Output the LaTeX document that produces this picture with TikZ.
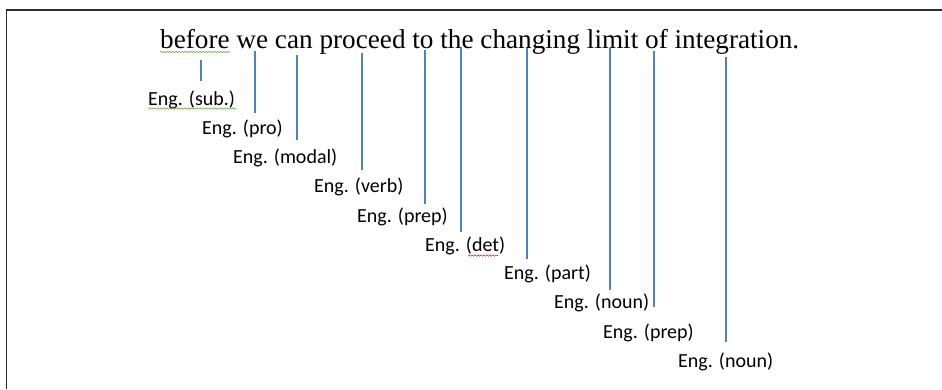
\documentclass[tikz,border=0pt]{standalone}
\usepackage{fontspec}
\setmainfont{Liberation Serif}
\newfontfamily\tagfont{Carlito}
\usetikzlibrary{decorations.pathmorphing}
\definecolor{lineBlue}{RGB}{79,129,189}
\definecolor{frameGrey}{RGB}{45,45,45}
\definecolor{waveGreen}{RGB}{110,170,80}
\definecolor{waveRed}{RGB}{225,40,40}

\begin{document}
\begin{tikzpicture}[x=1pt, y=-1pt,
	tag/.style={anchor=base west, inner sep=0pt, font=\tagfont\fontsize{20}{24}\selectfont},
	link/.style={lineBlue, line width=1.6pt},
	wave/.style={decorate, decoration={snake, segment length=3pt, amplitude=0.7pt}, line width=0.6pt}]

% Define coordinates.

	\useasboundingbox (0,0) rectangle (942,389);

	%word tops
	\coordinate (beforeTop) at (201, 60);
	\coordinate (weTop) at (255, 51);
	\coordinate (canTop) at (297, 55);
	\coordinate (proceedTop) at (362, 53);
	\coordinate (toTop) at (425, 50);
	\coordinate (theTop) at (461, 47);
	\coordinate (changingTop) at (527, 48);
	\coordinate (limitTop) at (610, 48);
	\coordinate (ofTop) at (654, 51);
	\coordinate (integrationTop) at (726, 57);

	%line ends
	\coordinate (beforeEnd) at (201, 81);
	\coordinate (weEnd) at (255, 113);
	\coordinate (canEnd) at (297, 140);
	\coordinate (proceedEnd) at (362, 170);
	\coordinate (toEnd) at (425, 204);
	\coordinate (theEnd) at (461, 232);
	\coordinate (changingEnd) at (527, 259);
	\coordinate (limitEnd) at (610, 290);
	\coordinate (ofEnd) at (654, 307);
	\coordinate (integrationEnd) at (726, 342);

% Draw frame.

	\draw[frameGrey, line width=1.6pt] (6.5, 389) -- (6.5, 10) -- (942, 10);

% Draw sentence.

	\node[anchor=base west, inner sep=0pt, font=\fontsize{27.2}{32}\selectfont] (sentence) at (160, 48) {before we can proceed to the changing limit of integration.};

% Draw tags.

	\node[tag] (sub) at (148, 105) {Eng. (sub.)};
	\node[tag] (pro) at (202, 134) {Eng. (pro)};
	\node[tag] (modal) at (233, 163) {Eng. (modal)};
	\node[tag] (verb) at (314, 192) {Eng. (verb)};
	\node[tag] (prepA) at (357, 222) {Eng. (prep)};
	\node[tag] (det) at (425, 251) {Eng. (det)};
	\node[tag] (part) at (504, 279) {Eng. (part)};
	\node[tag] (nounA) at (554, 308) {Eng. (noun)};
	\node[tag] (prepB) at (603, 338) {Eng. (prep)};
	\node[tag] (nounB) at (678, 367) {Eng. (noun)};

% Draw lines.

	\draw[link] (beforeTop) -- (beforeEnd);
	\draw[link] (weTop) -- (weEnd);
	\draw[link] (canTop) -- (canEnd);
	\draw[link] (proceedTop) -- (proceedEnd);
	\draw[link] (toTop) -- (toEnd);
	\draw[link] (theTop) -- (theEnd);
	\draw[link] (changingTop) -- (changingEnd);
	\draw[link] (limitTop) -- (limitEnd);
	\draw[link] (ofTop) -- (ofEnd);
	\draw[link] (integrationTop) -- (integrationEnd);

% Draw spelling marks.

	\draw[wave, waveGreen] (160, 52) -- (230, 52);
	\draw[wave, waveGreen] (148, 108.5) -- (236, 108.5);
	\draw[wave, waveRed] (468, 255.5) -- (498, 255.5);

\end{tikzpicture}
\end{document}
